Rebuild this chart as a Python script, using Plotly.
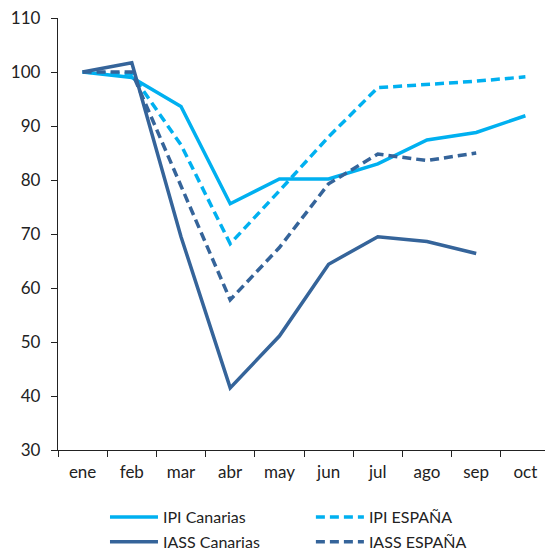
import plotly.graph_objects as go

meses = ["ene", "feb", "mar", "abr", "may", "jun", "jul", "ago", "sep", "oct"]

ipi_canarias = [100, 99.0, 93.6, 75.6, 80.2, 80.2, 83.0, 87.4, 88.8, 91.9]
ipi_espana = [100, 99.6, 86.5, 68.2, 78.0, 88.0, 97.1, 97.7, 98.3, 99.1]
iass_canarias = [100, 101.7, 69.5, 41.5, 51.1, 64.4, 69.5, 68.6, 66.4]
iass_espana = [100, 100.0, 78.9, 57.8, 67.5, 79.3, 84.8, 83.6, 85.0]

AZUL_CLARO = "#00B0F0"
AZUL_OSCURO = "#35649A"

# (nombre, valores, color, trazo, leyenda)
series = [
    ("IPI Canarias", ipi_canarias, AZUL_CLARO, "solid", "legend"),
    ("IPI ESPAÑA", ipi_espana, AZUL_CLARO, "9px,5px", "legend2"),
    ("IASS Canarias", iass_canarias, AZUL_OSCURO, "solid", "legend"),
    ("IASS ESPAÑA", iass_espana, AZUL_OSCURO, "9px,5px", "legend2"),
]

fig = go.Figure()
for nombre, valores, color, dash, ley in series:
    fig.add_trace(go.Scatter(
        x=meses[:len(valores)],
        y=valores,
        name=nombre,
        legend=ley,
        legendgroup=nombre,
        mode="lines",
        line=dict(color=color, width=3.5, dash=dash),
    ))

ley_comun = dict(
    orientation="v",
    y=-0.116,
    xanchor="left",
    yanchor="top",
    tracegroupgap=1,
    font=dict(size=16),
    itemwidth=48,
    bgcolor="rgba(0,0,0,0)",
)

# la página añade 8px de margen al cuerpo, se descuenta aquí
fig.update_layout(
    width=545,
    height=542,
    margin=dict(l=50, r=3, t=10, b=100, autoexpand=False),
    plot_bgcolor="white",
    paper_bgcolor="white",
    font=dict(family="Lato, Liberation Sans, sans-serif", size=17, color="#222222"),
    showlegend=True,
    legend=dict(x=0.0955, **ley_comun),
    legend2=dict(x=0.514, **ley_comun),
)

fig.update_xaxes(
    type="category",
    categoryorder="array",
    categoryarray=meses,
    range=[-0.5, 9.5],
    showline=True,
    linecolor="#222222",
    linewidth=1.3,
    ticks="outside",
    tickson="boundaries",
    ticklen=6,
    tickcolor="#222222",
    ticklabelstandoff=6,
    showgrid=False,
    zeroline=False,
)

fig.update_yaxes(
    range=[30, 110],
    dtick=10,
    showline=True,
    linecolor="#222222",
    linewidth=1.3,
    ticks="outside",
    ticklen=6,
    tickcolor="#222222",
    ticklabelstandoff=7,
    ticklabeloverflow="allow",
    showgrid=False,
    zeroline=False,
)

fig.write_html("out.html")
